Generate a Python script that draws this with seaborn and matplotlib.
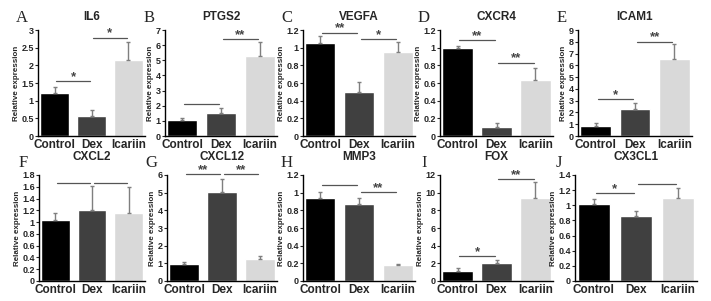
import numpy as np
import pandas as pd
import matplotlib
matplotlib.use("Agg")
import matplotlib.pyplot as plt
import seaborn as sns

sns.set_style("white")
plt.rcParams["font.family"] = ["Liberation Sans", "DejaVu Sans"]

groups = ["Control", "Dex", "Icariin"]
colors = ["#000000", "#404040", "#d9d9d9"]

# --- data (mean, upper error) ---
genes = ["IL6", "PTGS2", "VEGFA", "CXCR4", "ICAM1",
         "CXCL2", "CXCL12", "MMP3", "FOX", "CX3CL1"]
letters = ["A", "B", "C", "D", "E", "F", "G", "H", "I", "J"]

means = {
    "IL6":    [1.22, 0.57, 2.15],
    "PTGS2":  [1.04, 1.49, 5.29],
    "VEGFA":  [1.055, 0.50, 0.95],
    "CXCR4":  [1.00, 0.10, 0.63],
    "ICAM1":  [0.88, 2.29, 6.54],
    "CXCL2":  [1.04, 1.21, 1.16],
    "CXCL12": [0.99, 5.05, 1.26],
    "MMP3":   [0.935, 0.87, 0.18],
    "FOX":    [1.14, 2.02, 9.45],
    "CX3CL1": [1.015, 0.857, 1.10],
}
errs = {
    "IL6":    [0.17, 0.18, 0.50],
    "PTGS2":  [0.18, 0.35, 0.91],
    "VEGFA":  [0.08, 0.11, 0.11],
    "CXCR4":  [0.02, 0.045, 0.14],
    "ICAM1":  [0.22, 0.49, 1.25],
    "CXCL2":  [0.12, 0.40, 0.43],
    "CXCL12": [0.08, 0.72, 0.17],
    "MMP3":   [0.075, 0.07, 0.017],
    "FOX":    [0.31, 0.38, 1.71],
    "CX3CL1": [0.065, 0.073, 0.125],
}
ymax = {"IL6": 3, "PTGS2": 7, "VEGFA": 1.2, "CXCR4": 1.2, "ICAM1": 9,
        "CXCL2": 1.8, "CXCL12": 6, "MMP3": 1.2, "FOX": 12, "CX3CL1": 1.4}
ystep = {"IL6": 0.5, "PTGS2": 1, "VEGFA": 0.2, "CXCR4": 0.2, "ICAM1": 1,
         "CXCL2": 0.2, "CXCL12": 1, "MMP3": 0.2, "FOX": 2, "CX3CL1": 0.2}
# significance bars: (left group, right group, height, label)
sig = {
    "IL6":    [(0, 1, 1.56, "*"), (1, 2, 2.78, "*")],
    "PTGS2":  [(0, 1, 2.1, ""), (1, 2, 6.4, "**")],
    "VEGFA":  [(0, 1, 1.17, "**"), (1, 2, 1.10, "*")],
    "CXCR4":  [(0, 1, 1.085, "**"), (1, 2, 0.83, "**")],
    "ICAM1":  [(0, 1, 3.12, "*"), (1, 2, 8.0, "**")],
    "CXCL2":  [(0, 1, 1.665, ""), (1, 2, 1.665, "")],
    "CXCL12": [(0, 1, 6.06, "**"), (1, 2, 6.06, "**")],
    "MMP3":   [(0, 1, 1.087, ""), (1, 2, 1.01, "**")],
    "FOX":    [(0, 1, 2.78, "*"), (1, 2, 11.54, "**")],
    "CX3CL1": [(0, 1, 1.16, "*"), (1, 2, 1.277, "")],
}

W, H = 711, 301
fig = plt.figure(figsize=(W / 100, H / 100), dpi=100)

lefts = [38, 165, 303, 440, 578, 39, 167, 303, 440, 575]
rights = [145, 277, 415, 553, 692, 145, 277, 415, 553, 697]
tops = [30] * 5 + [175] * 5
bottoms = [136] * 5 + [281] * 5

for i, g in enumerate(genes):
    ax = fig.add_axes([lefts[i] / W, 1 - bottoms[i] / H,
                       (rights[i] - lefts[i]) / W, (bottoms[i] - tops[i]) / H])
    df = pd.DataFrame({"group": groups, "value": means[g]})
    sns.barplot(data=df, x="group", y="value", hue="group", palette=colors,
                width=0.78, legend=False, ax=ax, saturation=1)
    ax.errorbar(range(3), means[g], yerr=[[0, 0, 0], errs[g]], fmt="none",
                ecolor="#7f7f7f", elinewidth=1.0, capsize=1.5, capthick=1.0)
    for a, b, h, lab in sig[g]:
        ax.plot([a + 0.05, b - 0.05], [h, h], color="#555555", lw=0.9,
                clip_on=False)
        if lab:
            ax.annotate(lab, ((a + b) / 2, h), xytext=(0, 0.8),
                        textcoords="offset points", ha="center",
                        va="baseline", fontsize=9.5, fontweight="bold",
                        color="#444444", annotation_clip=False)
    ax.set_xlim(-0.45, 2.45)
    ax.set_ylim(0, ymax[g])
    ticks = np.round(np.arange(0, ymax[g] + 1e-9, ystep[g]), 1)
    ax.set_yticks(ticks)
    ax.set_yticklabels([f"{t:g}" for t in ticks], fontsize=6.5,
                       fontweight="bold")
    ax.set_xticks(range(3))
    ax.set_xticklabels(groups, fontsize=8.5, fontweight="bold")
    ax.tick_params(axis="x", length=0, pad=2)
    ax.tick_params(axis="y", length=2, width=0.8, pad=1, direction="out",
                   left=True)
    ax.set_xlabel("")
    ax.set_ylabel("Relative expression", fontsize=5.8, fontweight="bold",
                  labelpad=1)
    sns.despine(ax=ax)
    for s in ["left", "bottom"]:
        ax.spines[s].set_linewidth(1.0)
        ax.spines[s].set_color("black")
    ax.set_title(g, fontsize=8.5, fontweight="bold", pad=7 if i < 5 else 11)
    fig.text((lefts[i] - 16) / W, 1 - (tops[i] - 12) / H, letters[i],
             family=["Liberation Serif", "DejaVu Serif"], fontsize=12,
             ha="center", va="center")

fig.savefig("out.png", dpi=100)
